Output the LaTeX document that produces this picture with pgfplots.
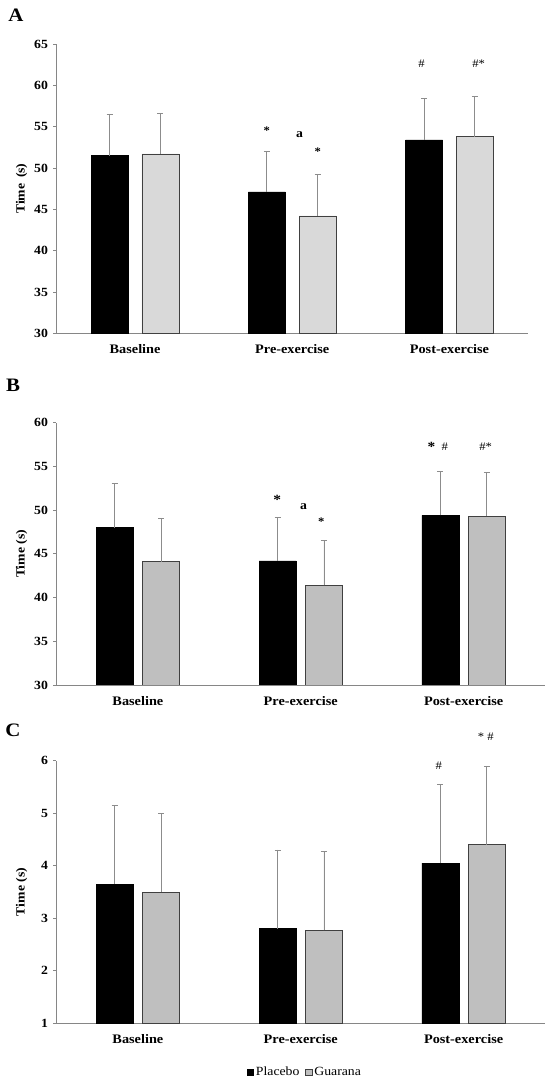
\documentclass[border=0pt]{standalone}
\usepackage{fontspec}
\setmainfont{Liberation Serif}[FakeStretch=1.1]
\usepackage{pgfplots}
\pgfplotsset{compat=1.18}
\definecolor{axisgray}{HTML}{868686}
\definecolor{errgray}{HTML}{8C8C8C}
\definecolor{lightg}{HTML}{D9D9D9}
\definecolor{midg}{HTML}{BFBFBF}
\definecolor{edge}{HTML}{404040}
\tikzset{
  ann/.style={font=\fontsize{11.5}{11.5}\selectfont, inner sep=0pt, anchor=center},
  annb/.style={font=\bfseries\fontsize{11.5}{11.5}\selectfont, inner sep=0pt, anchor=center},
}
\pgfplotsset{
  panel/.style={
    scale only axis, anchor=south west,
    xmin=-0.5, xmax=2.5,
    axis x line*=bottom, axis y line*=left,
    axis line style={draw=axisgray, line width=0.9pt, -},
    xtick={0,1,2}, xticklabels={Baseline,Pre-exercise,Post-exercise},
    x tick style={draw=none},
    y tick style={draw=axisgray, line width=0.8pt},
    tick align=outside, major tick length=3pt,
    /pgf/number format/assume math mode=true,
    yticklabel style={font=\bfseries\fontsize{12.5}{12.5}\selectfont, xshift=-2pt},
    xticklabel style={font=\bfseries\fontsize{13}{13}\selectfont, yshift=-5pt},
    every axis y label/.style={at={([xshift=-35pt]axis description cs:0,0.5)}, rotate=90, anchor=center},
    ylabel={Time (s)},
    ylabel style={font=\bfseries\fontsize{12.5}{12.5}\selectfont},
    ybar, bar width=37pt,
    clip mode=individual,
    error bars/y dir=plus, error bars/y explicit,
    error bars/error bar style={draw=errgray, line width=0.8pt},
    error bars/error mark options={draw=errgray, rotate=90, mark size=3pt, line width=0.8pt},
  },
}
\begin{document}
\begin{tikzpicture}[x=1pt,y=1pt]
% ---------------- Panel A ----------------
\begin{axis}[panel, at={(56.5pt,748.7pt)}, width=471.5pt, height=289.3pt,
  ymin=30, ymax=65, ytick={30,35,40,45,50,55,60,65},
  ylabel={Time\, (s)}]
\addplot[fill=black, draw=black, line width=0.6pt, bar shift=-25.4pt]
  coordinates {(0,51.5) +- (0,5.0) (1,47.1) +- (0,4.9) (2,53.4) +- (0,5.0)};
\addplot[fill=lightg, draw=edge, line width=0.6pt, bar shift=25.4pt]
  coordinates {(0,51.7) +- (0,4.9) (1,44.2) +- (0,5.0) (2,53.8) +- (0,4.9)};
\node[annb] at (axis cs:0.838,54.5) {*};
\node[annb, font=\bfseries\fontsize{12.5}{12.5}\selectfont] at (axis cs:1.047,54.0) {a};
\node[annb] at (axis cs:1.162,52.0) {*};
\node[ann] at (axis cs:1.823,62.6) {\#};
\node[ann] at (axis cs:2.186,62.6) {\#*};
\end{axis}
% ---------------- Panel B ----------------
\begin{axis}[panel, at={(56.5pt,397pt)}, width=488.5pt, height=262.3pt,
  ymin=30, ymax=60, ytick={30,35,40,45,50,55,60}]
\addplot[fill=black, draw=black, line width=0.6pt, bar shift=-23.2pt]
  coordinates {(0,48.0) +- (0,5.0) (1,44.2) +- (0,5.0) (2,49.4) +- (0,5.0)};
\addplot[fill=midg, draw=edge, line width=0.6pt, bar shift=23.2pt]
  coordinates {(0,44.1) +- (0,5.0) (1,41.4) +- (0,5.1) (2,49.3) +- (0,5.0)};
\node[annb, font=\bfseries\fontsize{14}{14}\selectfont] at (axis cs:0.856,51.2) {*};
\node[annb, font=\bfseries\fontsize{12.5}{12.5}\selectfont] at (axis cs:1.018,50.4) {a};
\node[annb] at (axis cs:1.126,48.7) {*};
\node[annb, font=\bfseries\fontsize{14}{14}\selectfont] at (axis cs:1.803,57.2) {*};
\node[ann] at (axis cs:1.885,57.2) {\#};
\node[ann] at (axis cs:2.136,57.3) {\#*};
\end{axis}
% ---------------- Panel C ----------------
\begin{axis}[panel, at={(56.5pt,58.7pt)}, width=488.5pt, height=262.6pt,
  ymin=1, ymax=6, ytick={1,2,3,4,5,6},
  legend columns=2,
  legend style={at={(0.5087,-0.1855)}, anchor=center, draw=none, fill=none,
    font=\fontsize{12.5}{12.5}\selectfont, inner sep=0pt,
    /tikz/every even column/.append style={column sep=4pt}},
  legend image code/.code={\draw[#1,/tikz/.cd,line width=0.5pt] (0pt,-3.2pt) rectangle (6.4pt,3.2pt);}]
\addplot[fill=black, draw=black, line width=0.6pt, bar shift=-23.2pt]
  coordinates {(0,3.65) +- (0,1.50) (1,2.80) +- (0,1.50) (2,4.05) +- (0,1.50)};
\addlegendentry{Placebo}
\addplot[fill=midg, draw=edge, line width=0.6pt, bar shift=23.2pt]
  coordinates {(0,3.50) +- (0,1.50) (1,2.77) +- (0,1.50) (2,4.40) +- (0,1.50)};
\addlegendentry{Guarana}
\node[ann] at (axis cs:1.848,5.9) {\#};
\node[ann] at (axis cs:2.136,6.45) {* \#};
\end{axis}
% panel letters
\node[font=\bfseries\fontsize{19}{19}\selectfont, inner sep=0pt] at (15.8,1067) {A};
\node[font=\bfseries\fontsize{19}{19}\selectfont, inner sep=0pt] at (13,697) {B};
\node[font=\bfseries\fontsize{19}{19}\selectfont, inner sep=0pt] at (13,352) {C};
\pgfresetboundingbox
\useasboundingbox (0,0) rectangle (550,1082);
\end{tikzpicture}
\end{document}
